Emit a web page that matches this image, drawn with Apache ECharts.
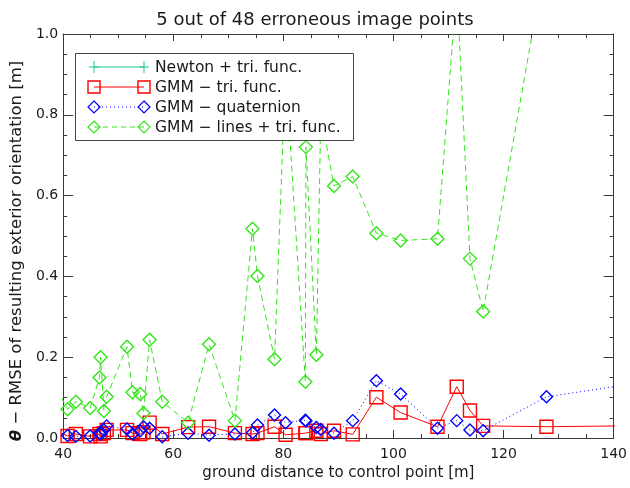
<!DOCTYPE html>
<html>
<head>
<meta charset="utf-8">
<script src="https://cdn.jsdelivr.net/npm/echarts@6/dist/echarts.min.js"></script>
<style>
  html, body { margin: 0; padding: 0; background: #ffffff; }
  #chart { width: 630px; height: 488px; }
</style>
</head>
<body>
<div id="chart"></div>
<script>
// Ground distance of each checked point to its control point [m]
const distance = [39.7, 40.8, 42.3, 44.9, 46.6, 46.8, 47.4, 47.9, 51.6, 52.6, 54.0, 54.6, 55.7, 58.0,
  62.7, 66.5, 71.2, 74.4, 75.3, 78.4, 80.4, 84.0, 84.1, 86.0, 86.8, 89.2, 92.6, 96.9, 101.3,
  108.0, 111.5, 113.9, 116.3, 127.8, 150.0];

// RMSE of the resulting exterior orientation [m], one value per distance
const gmmTri = [0.012, 0.005, 0.010, 0.004, 0.010, 0.004, 0.012, 0.020, 0.020, 0.012, 0.010, 0.014, 0.038, 0.010,
  0.027, 0.028, 0.012, 0.010, 0.012, 0.028, 0.008, 0.012, 0.012, 0.018, 0.010, 0.018, 0.009, 0.101, 0.063,
  0.028, 0.127, 0.068, 0.030, 0.028, 0.031];
const gmmQuat = [0.011, 0.006, 0.004, 0.005, 0.012, 0.010, 0.020, 0.030, 0.022, 0.010, 0.018, 0.028, 0.024, 0.003,
  0.012, 0.007, 0.010, 0.013, 0.032, 0.057, 0.038, 0.044, 0.042, 0.026, 0.021, 0.012, 0.043, 0.142, 0.109,
  0.024, 0.043, 0.020, 0.018, 0.102, 0.147];
const gmmLines = [0.100, 0.071, 0.090, 0.074, 0.150, 0.200, 0.067, 0.102, 0.226, 0.113, 0.109, 0.061, 0.243, 0.090,
  0.038, 0.232, 0.043, 0.518, 0.401, 0.195, 0.910, 0.139, 0.720, 0.206, 0.800, 0.624, 0.647, 0.507, 0.489,
  0.493, 1.120, 0.444, 0.313, 1.200, 1.600];
// Newton solution: no value falls inside the plotted window
const newtonTri = [];

const seriesNames = ['Newton + tri. func.', 'GMM \u2212 tri. func.', 'GMM \u2212 quaternion', 'GMM \u2212 lines + tri. func.'];
const xRange = [40, 140];
const yRange = [0, 1.0];

const FONT = 'DejaVu Sans';
const TXT = '#1a1a1a';
const AXIS = '#3a3a3a';
const C_NEWTON = '#1fc98a';
const C_RED = '#ff0000';
const C_BLUE = '#0000ff';
const C_GREEN = '#33e61a';

const pairs = (ys) => distance.map((x, i) => [x, ys[i]]);

function xAxisCfg(bottom) {
  return {
    type: 'value', min: xRange[0], max: xRange[1], interval: 20,
    position: bottom ? 'bottom' : 'top',
    axisLine: { show: true, onZero: false, lineStyle: { color: AXIS, width: 1 } },
    axisTick: { show: true, inside: true, length: bottom ? 8 : 7, lineStyle: { color: AXIS } },
    minorTick: { show: true, splitNumber: 4, length: 4, lineStyle: { color: AXIS } },
    splitLine: { show: false },
    axisLabel: { show: bottom, margin: 9, fontSize: 14, fontFamily: FONT, color: TXT },
    name: bottom ? 'ground distance to control point [m]' : '',
    nameLocation: 'middle', nameGap: 23,
    nameTextStyle: { fontSize: 15, fontFamily: FONT, color: TXT }
  };
}
function yAxisCfg(left) {
  return {
    type: 'value', min: yRange[0], max: yRange[1], interval: 0.2,
    position: left ? 'left' : 'right',
    axisLine: { show: true, onZero: false, lineStyle: { color: AXIS, width: 1 } },
    axisTick: { show: true, inside: true, length: 10, lineStyle: { color: AXIS } },
    minorTick: { show: true, splitNumber: 4, length: 4, lineStyle: { color: AXIS } },
    splitLine: { show: false },
    axisLabel: { show: left, margin: 5, fontSize: 14, fontFamily: FONT, color: TXT,
      formatter: (v) => v.toFixed(1) },
    name: left ? '{th|\u03b8} \u2212 RMSE of resulting exterior orientation [m]' : '',
    nameLocation: 'middle', nameRotate: 90, nameGap: 37,
    nameTextStyle: { fontSize: 16.5, fontFamily: FONT, color: TXT, padding: [0, 30, 0, 0],
      rich: { th: { fontSize: 16.5, fontFamily: FONT, fontWeight: 'bold', fontStyle: 'italic', color: TXT } } }
  };
}

function lineSeries(name, ys, color, symbol, size, dash) {
  return {
    name, type: 'line', data: pairs(ys), xAxisIndex: 0, yAxisIndex: 0,
    symbol, symbolSize: size, showAllSymbol: true, clip: true, animation: false,
    lineStyle: { color, width: 1, type: dash },
    itemStyle: { color: 'rgba(0,0,0,0)', borderColor: color, borderWidth: 1.4 },
    emphasis: { disabled: true }
  };
}

// Legend box drawn on top of the plot, hiding what passes behind it
const box = { x: 75, y: 53, w: 278, h: 87 };
const legendEls = [{
  type: 'rect', z: 100,
  shape: { x: box.x + 0.5, y: box.y + 0.5, width: box.w, height: box.h },
  style: { fill: '#ffffff', stroke: '#444444', lineWidth: 1 }
}];
const legendStyles = [
  { color: C_NEWTON, mark: 'plus', dash: null },
  { color: C_RED, mark: 'square', dash: null },
  { color: C_BLUE, mark: 'diamond', dash: [1, 3] },
  { color: C_GREEN, mark: 'diamond', dash: [5, 4] }
];
function legendMark(kind, cx, cy, color) {
  if (kind === 'plus') {
    return [
      { type: 'line', z: 101, shape: { x1: cx - 5, y1: cy, x2: cx + 5, y2: cy }, style: { stroke: color, lineWidth: 1 } },
      { type: 'line', z: 101, shape: { x1: cx, y1: cy - 6, x2: cx, y2: cy + 6 }, style: { stroke: color, lineWidth: 1 } }
    ];
  }
  if (kind === 'square') {
    return [{ type: 'rect', z: 101, shape: { x: cx - 6, y: cy - 6, width: 12, height: 12 },
      style: { fill: 'none', stroke: color, lineWidth: 1.4 } }];
  }
  return [{ type: 'polygon', z: 101,
    shape: { points: [[cx, cy - 6], [cx + 6, cy], [cx, cy + 6], [cx - 6, cy]] },
    style: { fill: 'none', stroke: color, lineWidth: 1.2 } }];
}
seriesNames.forEach((name, i) => {
  const cy = 67 + 20 * i;
  const st = legendStyles[i];
  const x1 = 94, x2 = 144;
  legendEls.push({ type: 'line', z: 101, shape: { x1, y1: cy, x2, y2: cy },
    style: { stroke: st.color, lineWidth: 1, lineDash: st.dash } });
  legendEls.push(...legendMark(st.mark, x1, cy, st.color));
  legendEls.push(...legendMark(st.mark, x2, cy, st.color));
  legendEls.push({ type: 'text', z: 101, x: 155, y: cy + 1,
    style: { text: name, fontSize: 15.5, fontFamily: FONT, fill: TXT, verticalAlign: 'middle', align: 'left' } });
});

const chart = echarts.init(document.getElementById('chart'), null, { renderer: 'canvas' });
chart.setOption({
  animation: false,
  backgroundColor: '#ffffff',
  title: {
    text: '5 out of 48 erroneous image points', left: 'center', top: 6,
    textStyle: { fontSize: 18, fontWeight: 'normal', fontFamily: FONT, color: TXT }
  },
  grid: { left: 63, top: 34, width: 551, height: 404, containLabel: false },
  xAxis: [xAxisCfg(true), xAxisCfg(false)],
  yAxis: [yAxisCfg(true), yAxisCfg(false)],
  series: [
    lineSeries(seriesNames[0], newtonTri, C_NEWTON, 'none', 0, 'solid'),
    lineSeries(seriesNames[1], gmmTri, C_RED, 'rect', 13, 'solid'),
    lineSeries(seriesNames[2], gmmQuat, C_BLUE, 'diamond', 12, [1, 3]),
    lineSeries(seriesNames[3], gmmLines, C_GREEN, 'diamond', 13, [6, 4])
  ],
  graphic: { elements: legendEls }
});
</script>
</body>
</html>
